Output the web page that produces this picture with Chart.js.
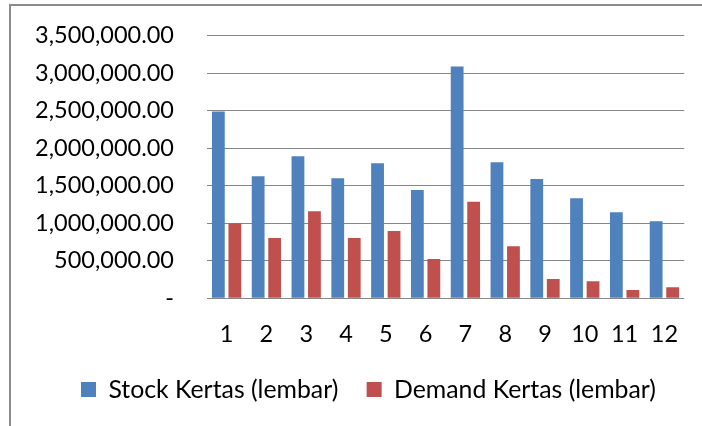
<!DOCTYPE html>
<html><head><meta charset="utf-8">
<script src="https://cdn.jsdelivr.net/npm/chart.js@4.4.0/dist/chart.umd.min.js"></script>
<style>
html,body{margin:0;padding:0;background:#fff;}
#wrap{position:relative;width:702px;height:426px;overflow:hidden;background:#fff;}
#frame{position:absolute;left:9px;top:4px;right:-5px;bottom:-5px;border-left:2px solid #8c8c8c;border-top:2px solid #8c8c8c;pointer-events:none;}
canvas{position:absolute;left:0;top:0;}
</style></head><body>
<div id="wrap"><canvas id="c" width="702" height="426"></canvas><div id="frame"></div></div>
<script>
// ---- data ----
const categories = ['1','2','3','4','5','6','7','8','9','10','11','12'];
const seriesNames = ['Stock Kertas (lembar)', 'Demand Kertas (lembar)'];
const stockValues  = [2490000, 1627000, 1893000, 1600000, 1800000, 1444000, 3088000, 1813000, 1591000, 1333000, 1147000, 1027000];
const demandValues = [1000000,  804000, 1160000,  804000,  897000,  524000, 1288000,  693000,  257000,  227000,  111000,  147000];
const yTickValues  = [0, 500000, 1000000, 1500000, 2000000, 2500000, 3000000, 3500000];

// ---- layout targets ----
const W = 702, H = 426;
const plotLeft = 206.7, plotRight = 684.3, plotTop = 35.7, plotBottom = 298.3;
const tickRight = 174, xLabelCenter = 334.5, legendCenterY = 389.5, legendStartX = 81;
const FONT = 'Lato, "Open Sans", sans-serif';

const mctx = document.createElement('canvas').getContext('2d');
function tw(text, size){ mctx.font = size + 'px ' + FONT; return mctx.measureText(text).width; }
const fmt = v => v === 0 ? '-' : v.toLocaleString('en-US', {minimumFractionDigits: 2, maximumFractionDigits: 2});

const tickSize = 100 * 139 / tw(fmt(3500000), 100);
const legSize = 100 * 230 / tw(seriesNames[0], 100);
const boxW = 15;
const item1 = boxW + legSize / 2 + tw(seriesNames[0], legSize);
const item2 = boxW + legSize / 2 + tw(seriesNames[1], legSize);
const legPad = (plotRight - legendStartX - item1 - item2) / 2;
const itemH = Math.max(legSize, boxW);
const legTop = legendCenterY - legPad - itemH / 2;
const legBottom = legTop + legPad + itemH + 10;
const padBottom = H - legBottom;
const xAxisH = legTop - plotBottom;
const xPad = xLabelCenter - plotBottom - tickSize * 1.2 / 2;

new Chart(document.getElementById('c'), {
  type: 'bar',
  data: {
    labels: categories,
    datasets: [
      { label: seriesNames[0], data: stockValues, backgroundColor: '#4F81BD', borderWidth: 0 },
      { label: seriesNames[1], data: demandValues, backgroundColor: '#C0504D', borderWidth: 0 }
    ]
  },
  options: {
    responsive: false,
    animation: false,
    devicePixelRatio: 1,
    categoryPercentage: 0.829,
    barPercentage: 0.776,
    layout: { padding: { left: 0, top: plotTop, right: W - plotRight, bottom: padBottom } },
    plugins: {
      tooltip: { enabled: false },
      legend: {
        position: 'bottom',
        align: 'end',
        labels: {
          boxWidth: boxW, boxHeight: boxW, padding: legPad,
          color: '#000', font: { family: FONT, size: legSize }
        }
      }
    },
    scales: {
      x: {
        grid: { display: false, drawTicks: false },
        border: { display: false },
        ticks: { color: '#000', font: { family: FONT, size: tickSize }, padding: xPad, maxRotation: 0, autoSkip: false },
        afterFit: s => { s.height = xAxisH; s.paddingLeft = 0; s.paddingRight = 0; }
      },
      y: {
        min: 0, max: 3500000,
        grid: { color: '#868686', lineWidth: 1, drawTicks: false },
        border: { display: false },
        ticks: { color: '#000', font: { family: FONT, size: tickSize }, padding: plotLeft - tickRight, callback: v => fmt(v) },
        afterBuildTicks: s => { s.ticks = yTickValues.map(v => ({ value: v })); },
        afterFit: s => { s.width = plotLeft; s.paddingTop = 0; s.paddingBottom = 0; }
      }
    }
  }
});
</script>
</body></html>
